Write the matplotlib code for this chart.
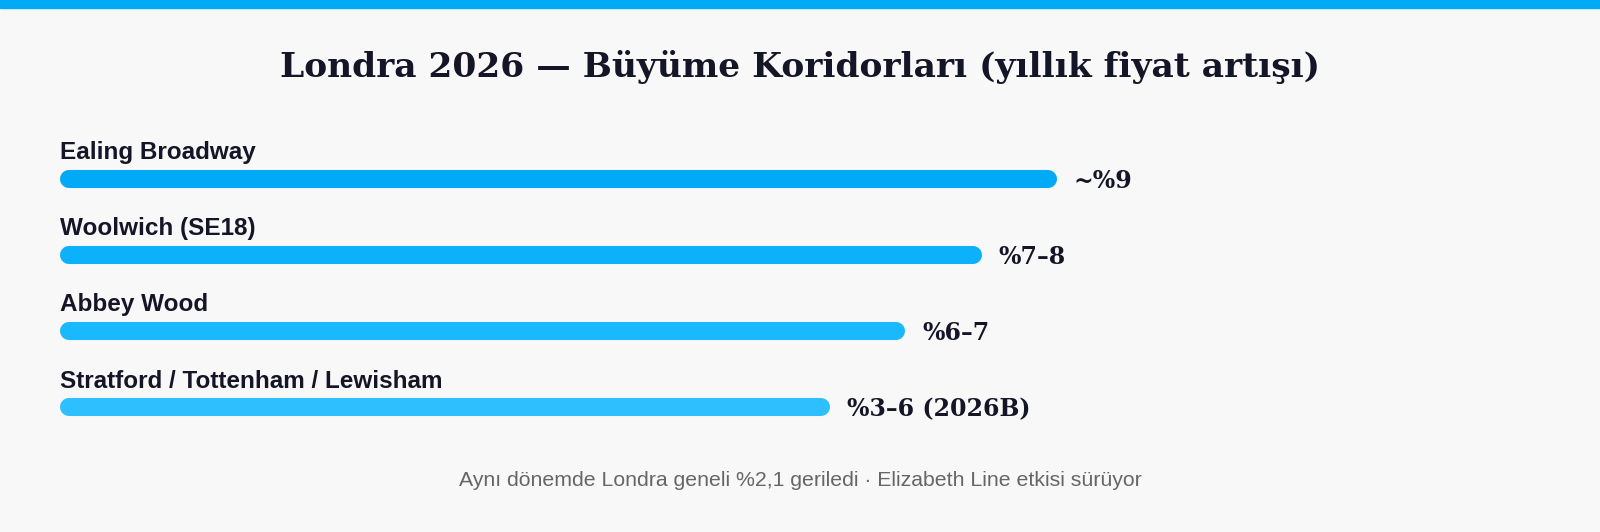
import matplotlib.pyplot as plt

names = ["Ealing Broadway", "Woolwich (SE18)", "Abbey Wood", "Stratford / Tottenham / Lewisham"]
lengths = [9.0, 8.32, 7.63, 6.95]
value_labels = ["~%9", "%7–8", "%6–7", "%3–6 (2026B)"]
colors = ["#00aaf7", "#0db1fa", "#1ab8fc", "#2ec0fe"]

W, H = 1600, 532
fig = plt.figure(figsize=(W / 100, H / 100), dpi=100)
fig.patch.set_facecolor("#f8f8f8")

# top accent stripe
fig.add_artist(plt.Rectangle((0, 1 - 8 / H), 1, 8 / H, transform=fig.transFigure,
                             color="#00aaf7", zorder=0))

fig.text(0.5, 1 - 67 / H, "Londra 2026 — Büyüme Koridorları (yıllık fiyat artışı)",
         ha="center", va="center", fontsize=24.8, fontweight="bold",
         family="DejaVu Serif", color="#151528")

# axes: left at 60px, 9 units = 997px; pixel rows 130..440
ax = fig.add_axes([60 / W, 92 / H, 997 / W, 310 / H])
ax.set_facecolor("none")
ax.set_xlim(0, 9)
step = 76
ax.set_ylim(3 + (440 - 407) / step, -(179 - 130) / step)
ax.axis("off")

px = 9 / 997  # data units per pixel in x
for i, (n, v, lab, c) in enumerate(zip(names, lengths, value_labels, colors)):
    ax.plot([9 * px, v - 9 * px], [i, i], color=c, lw=13, solid_capstyle="round")
    ax.text(0, i - 26 / step, n, ha="left", va="center", fontsize=17.5,
            fontweight="bold", family="Liberation Sans", color="#151528")
    ax.text(v + 17 * px, i + 2 / step, lab, ha="left", va="center", fontsize=17,
            fontweight="bold", family="DejaVu Serif", color="#151528", clip_on=False)

fig.text(0.5, 1 - 481 / H,
         "Aynı dönemde Londra geneli %2,1 geriledi · Elizabeth Line etkisi sürüyor",
         ha="center", va="center", fontsize=15.3, family="Liberation Sans", color="#666666")

fig.savefig("out.png", dpi=100, facecolor=fig.get_facecolor())
